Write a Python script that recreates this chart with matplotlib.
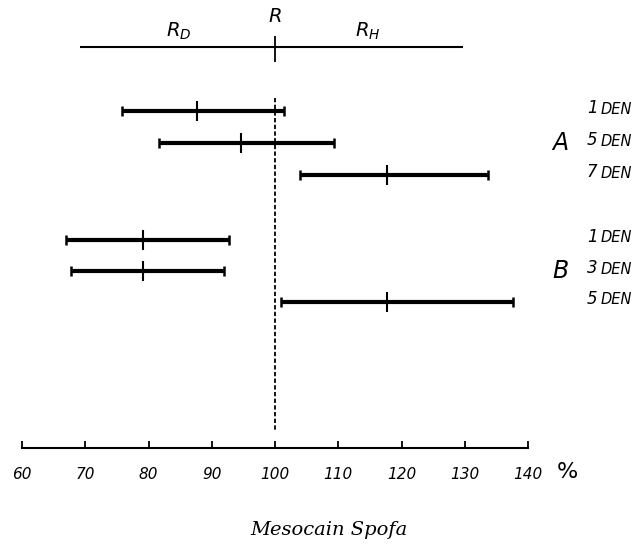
import numpy as np
import matplotlib
matplotlib.use("Agg")
import matplotlib.pyplot as plt

# Daten (Prozent)
groups = ["A", "A", "A", "B", "B", "B"]
days = ["1", "5", "7", "1", "3", "5"]
low = [75.8, 81.7, 104, 66.9, 67.7, 101]
mid = [87.6, 94.6, 117.7, 79.1, 79.1, 117.7]
high = [101.4, 109.4, 133.7, 92.8, 92.0, 137.7]
ticks = [60, 70, 80, 90, 100, 110, 120, 130, 140]
ref = 100

# Layout (Pixelzeilen von oben)
rows_y = [111, 143, 175, 240, 271, 302]
axis_y = 448

fig = plt.figure(figsize=(6.38, 5.5), dpi=100)
ax = fig.add_axes([0, 0, 1, 1])
ax.set_xlim(56.52, 56.52 + 638 / 6.325)
ax.set_ylim(550, 0)

for s in ["top", "left", "right"]:
    ax.spines[s].set_visible(False)
ax.spines["bottom"].set_position(("data", axis_y))
ax.spines["bottom"].set_bounds(ticks[0], ticks[-1])
ax.spines["bottom"].set_linewidth(1.5)
ax.set_yticks([])
ax.set_xticks(ticks)
ax.set_xticklabels([str(t) for t in ticks], style="italic", fontsize=11)
ax.tick_params(axis="x", direction="in", length=5, width=1.3, pad=14)

# Balken
for y, lo, m, hi in zip(rows_y, low, mid, high):
    ax.hlines(y, lo, hi, color="black", lw=3)
    ax.vlines([lo, hi], y - 5, y + 5, color="black", lw=1.8)
    ax.vlines(m, y - 10, y + 10, color="black", lw=1.5)

# Referenzlinie
ax.vlines(ref, 98, 432, color="black", lw=1.3, linestyles=(0, (2.4, 1.3)))

# obere Skala R_D / R / R_H
ax.hlines(47, 69.2, 129.7, color="black", lw=1.5)
ax.vlines(ref, 36, 62, color="black", lw=1.3)
ax.text(ref, 17, "$R$", ha="center", va="center", fontsize=14)
ax.text(84.7, 31, "$R_D$", ha="center", va="center", fontsize=14)
ax.text(114.7, 31, "$R_H$", ha="center", va="center", fontsize=14)

# Beschriftung rechts
ax.text(143.8, rows_y[1], "A", ha="left", va="center", fontsize=17, style="italic")
ax.text(143.8, rows_y[4], "B", ha="left", va="center", fontsize=17, style="italic")
for y, d in zip(rows_y, days):
    ax.text(149.3, y - 3, d, ha="left", va="center", fontsize=12, style="italic")
    ax.text(151.4, y - 2, "DEN", ha="left", va="center", fontsize=10.5, style="italic")

ax.text(146.3, 472, "%", ha="center", va="center", fontsize=16)
ax.text(108.5, 530, "Mesocain Spofa", ha="center", va="center", fontsize=14,
        style="italic", family="DejaVu Serif")

fig.savefig("out.png", dpi=100)
